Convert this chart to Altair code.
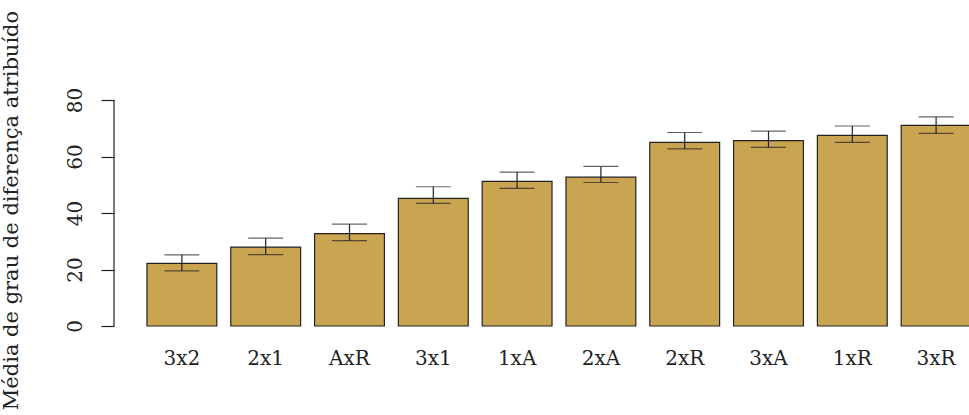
import altair as alt
import pandas as pd

categories = ["3x2", "2x1", "AxR", "3x1", "1xA", "2xA", "2xR", "3xA", "1xR", "3xR"]
means = [22.2, 27.9, 32.7, 45.2, 51.2, 52.7, 65.0, 65.6, 67.5, 71.0]
lower = [19.5, 25.3, 30.2, 43.4, 48.7, 50.8, 62.7, 63.2, 65.0, 68.2]
upper = [25.2, 31.1, 36.1, 49.3, 54.5, 56.5, 68.5, 69.0, 70.8, 74.0]
y_ticks = [0, 20, 40, 60, 80]
y_title = "Média de grau de diferença atribuído"

df = pd.DataFrame({"cat": categories, "mean": means, "lo": lower, "hi": upper})
axis_df = pd.DataFrame({"y0": [y_ticks[0]], "y1": [y_ticks[-1]]})

FONT = "DejaVu Serif"
W, H = 855, 235

xs = alt.Scale(domain=categories, range=[26, 864], paddingInner=0.1667, paddingOuter=0.0833)
ys = alt.Scale(domain=[-1.06, 82.13], nice=False, zero=False)

x_enc = alt.X("cat:N", scale=xs, sort=categories, title=None,
              axis=alt.Axis(labelAngle=0, ticks=False, tickSize=0, domain=False,
                            labelPadding=35, labelBaseline="alphabetic",
                            labelFont=FONT, labelFontSize=20, labelColor="#222222"))

bars = alt.Chart(df).mark_bar(color="#C9A552", stroke="#222222", strokeWidth=1.2, clip=True).encode(
    x=x_enc,
    y=alt.Y("mean:Q", scale=ys, title=y_title,
            axis=alt.Axis(values=y_ticks, domain=False, tickSize=13, tickColor="#222222",
                          tickWidth=1.2, grid=False,
                          labelAngle=270, labelAlign="center", labelBaseline="alphabetic",
                          labelPadding=20, labelFont=FONT, labelFontSize=20, labelColor="#222222",
                          titleFont=FONT, titleFontSize=21, titleFontWeight="normal",
                          titleColor="#222222", titleAngle=270, titleX=-97, titleY=116,
                          titleBaseline="alphabetic", titleAlign="center")),
    y2=alt.datum(0),
)

err = alt.Chart(df).mark_rule(color="#222222", strokeWidth=1.2).encode(
    x=alt.X("cat:N", scale=xs, sort=categories),
    y=alt.Y("lo:Q", scale=ys),
    y2="hi:Q",
)
cap_lo = alt.Chart(df).mark_tick(color="#222222", size=35, thickness=1.2).encode(
    x=alt.X("cat:N", scale=xs, sort=categories),
    y=alt.Y("lo:Q", scale=ys),
)
cap_hi = alt.Chart(df).mark_tick(color="#222222", size=35, thickness=1.2).encode(
    x=alt.X("cat:N", scale=xs, sort=categories),
    y=alt.Y("hi:Q", scale=ys),
)
yaxis_line = alt.Chart(axis_df).mark_rule(color="#222222", strokeWidth=1.2).encode(
    x=alt.value(0),
    y=alt.Y("y0:Q", scale=ys),
    y2="y1:Q",
)

chart = alt.layer(bars, err, cap_lo, cap_hi, yaxis_line).properties(
    width=W, height=H,
    autosize=alt.AutoSizeParams(type="none"),
    padding={"left": 114, "top": 94, "right": 0, "bottom": 86},
    background="white",
).configure_view(stroke=None)

chart.save("out.html", embed_options={"renderer": "svg", "actions": False})
